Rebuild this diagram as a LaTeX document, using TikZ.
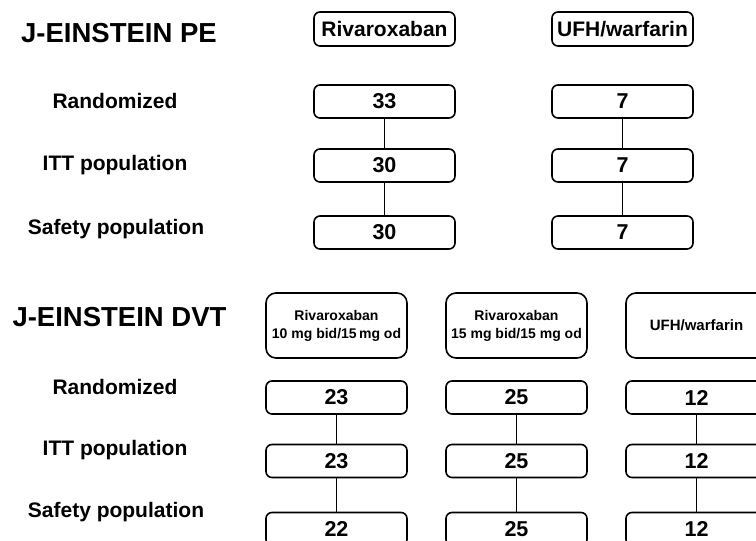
\documentclass[tikz,border=0pt]{standalone}
\usepackage{fontspec}
\setmainfont{Liberation Sans}
\begin{document}
\begin{tikzpicture}[x=1pt,y=-1pt,
  every node/.style={font=\bfseries},
  numbox/.style={draw, line width=1.6pt, rounded corners=6pt, minimum width=141pt, minimum height=33pt, inner sep=0pt, font=\bfseries\fontsize{21.5}{24}\selectfont},
  headbox/.style={draw, line width=1.6pt, rounded corners=10pt, minimum width=141pt, minimum height=65pt, inner sep=0pt, align=center, font=\bfseries\fontsize{14}{18}\selectfont},
  pehead/.style={draw, line width=1.6pt, rounded corners=6pt, minimum width=141pt, minimum height=34pt, inner sep=0pt, font=\bfseries\fontsize{21}{25}\selectfont},
  rowlabel/.style={font=\bfseries\fontsize{21}{25}\selectfont},
  title/.style={font=\bfseries\fontsize{27.5}{32}\selectfont},
  link/.style={line width=1.6pt}
]
\clip (0,0) rectangle (756,541);
\fill[white] (0,0) rectangle (756,541);

% PE
\node[title] (tpe) at (119,33) {J-EINSTEIN PE};
\node[rowlabel] (pr) at (115,101) {Randomized};
\node[rowlabel] (pi) at (115,165) {ITT population};
\node[rowlabel] (ps) at (116,229) {Safety population};

\node[pehead] (ha) at (384.5,29) {Rivaroxaban};
\node[pehead] (hb) at (622.5,29) {UFH/warfarin};

\node[numbox] (a1) at (384.5,101.5) {33};
\node[numbox] (a2) at (384.5,165.5) {30};
\node[numbox] (a3) at (384.5,232.5) {30};
\node[numbox] (b1) at (622.5,101.5) {7};
\node[numbox] (b2) at (622.5,165.5) {7};
\node[numbox] (b3) at (622.5,232.5) {7};
\draw[link] (a1.south) -- (a2.north);
\draw[link] (a2.south) -- (a3.north);
\draw[link] (b1.south) -- (b2.north);
\draw[link] (b2.south) -- (b3.north);

% DVT
\node[title] (tdvt) at (119.5,317) {J-EINSTEIN DVT};
\node[rowlabel] (dr) at (115,387) {Randomized};
\node[rowlabel] (di) at (115,450) {ITT population};
\node[rowlabel] (ds) at (116,512) {Safety population};

\node[headbox] (hc) at (336.5,325.5) {Rivaroxaban\\10 mg bid/15\,mg od};
\node[headbox] (hd) at (516.5,325.5) {Rivaroxaban\\15 mg bid/15 mg od};
\node[headbox, font=\bfseries\fontsize{15}{18}\selectfont] (he) at (696.5,325.5) {UFH/warfarin};

\node[numbox] (c1) at (336.5,397.5) {23};
\node[numbox] (c2) at (336.5,461) {23};
\node[numbox] (c3) at (336.5,529) {22};
\node[numbox] (d1) at (516.5,397.5) {25};
\node[numbox] (d2) at (516.5,461) {25};
\node[numbox] (d3) at (516.5,529) {25};
\node[numbox] (e1) at (696.5,397.5) {12};
\node[numbox] (e2) at (696.5,461) {12};
\node[numbox] (e3) at (696.5,529) {12};
\draw[link] (c1.south) -- (c2.north);
\draw[link] (c2.south) -- (c3.north);
\draw[link] (d1.south) -- (d2.north);
\draw[link] (d2.south) -- (d3.north);
\draw[link] (e1.south) -- (e2.north);
\draw[link] (e2.south) -- (e3.north);
\end{tikzpicture}
\end{document}
